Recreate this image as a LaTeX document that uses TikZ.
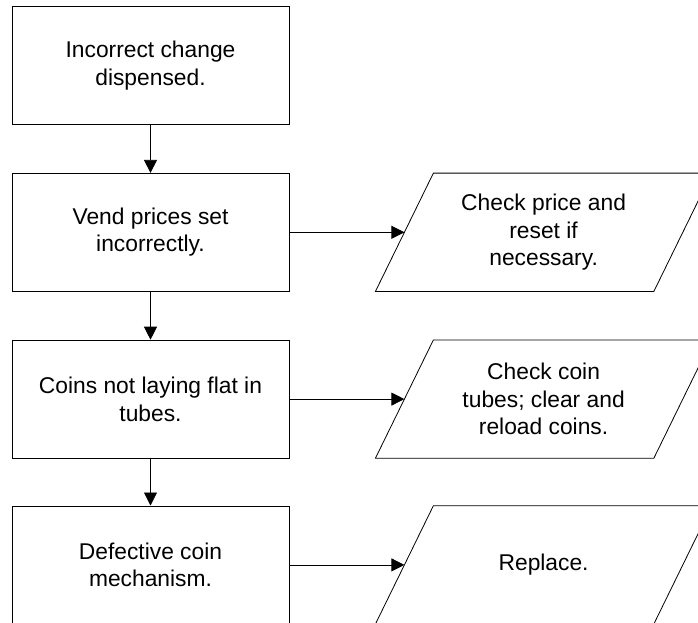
\documentclass[tikz,border=0pt]{standalone}
\usepackage{fontspec}
\setmainfont{Liberation Sans}
\usetikzlibrary{positioning}
\usetikzlibrary{arrows.meta}

\tikzset{
  cause/.style={draw, line width=0.8pt, minimum width=277pt, minimum height=118pt,
    align=center, font=\fontsize{22.8}{27.5}\selectfont},
  remedy/.style={minimum width=278pt, minimum height=118pt,
    align=center, font=\fontsize{22.8}{27.5}\selectfont},
  flow/.style={-{Triangle[length=13pt,width=13pt]}, line width=0.8pt}
}

\begin{document}
\begin{tikzpicture}[x=1pt,y=1pt]
  \useasboundingbox (0,0) rectangle (698,-623);
  \clip (0,0) rectangle (698,-623);
  \node[cause] (change) at (150.5,-65.5) {Incorrect change\\dispensed.};
  \node[cause, below=48pt of change] (prices) {Vend prices set\\incorrectly.};
  \node[cause, below=48pt of prices] (tubes) {Coins not laying flat in\\tubes.};
  \node[cause, below=47pt of tubes] (mech) {Defective coin\\mechanism.};
  \node[remedy, right=115pt of prices] (reset) {Check price and\\reset if\\necessary.};
  \node[remedy, right=115pt of tubes] (reload) {Check coin\\tubes; clear and\\reload coins.};
  \node[remedy, right=115pt of mech] (replace) {Replace.};
  % slanted outlines of the remedies
  \foreach \n in {reset,reload,replace}
    \draw[line width=0.8pt] ([xshift=-29pt]\n.south west) -- ([xshift=-29pt]\n.south east)
      -- ([xshift=29pt]\n.north east) -- ([xshift=29pt]\n.north west) -- cycle;
  \draw[flow] (change) -- (prices);
  \draw[flow] (prices) -- (tubes);
  \draw[flow] (tubes) -- (mech);
  \draw[flow] (prices) -- (reset);
  \draw[flow] (tubes) -- (reload);
  \draw[flow] (mech) -- (replace);
\end{tikzpicture}
\end{document}
